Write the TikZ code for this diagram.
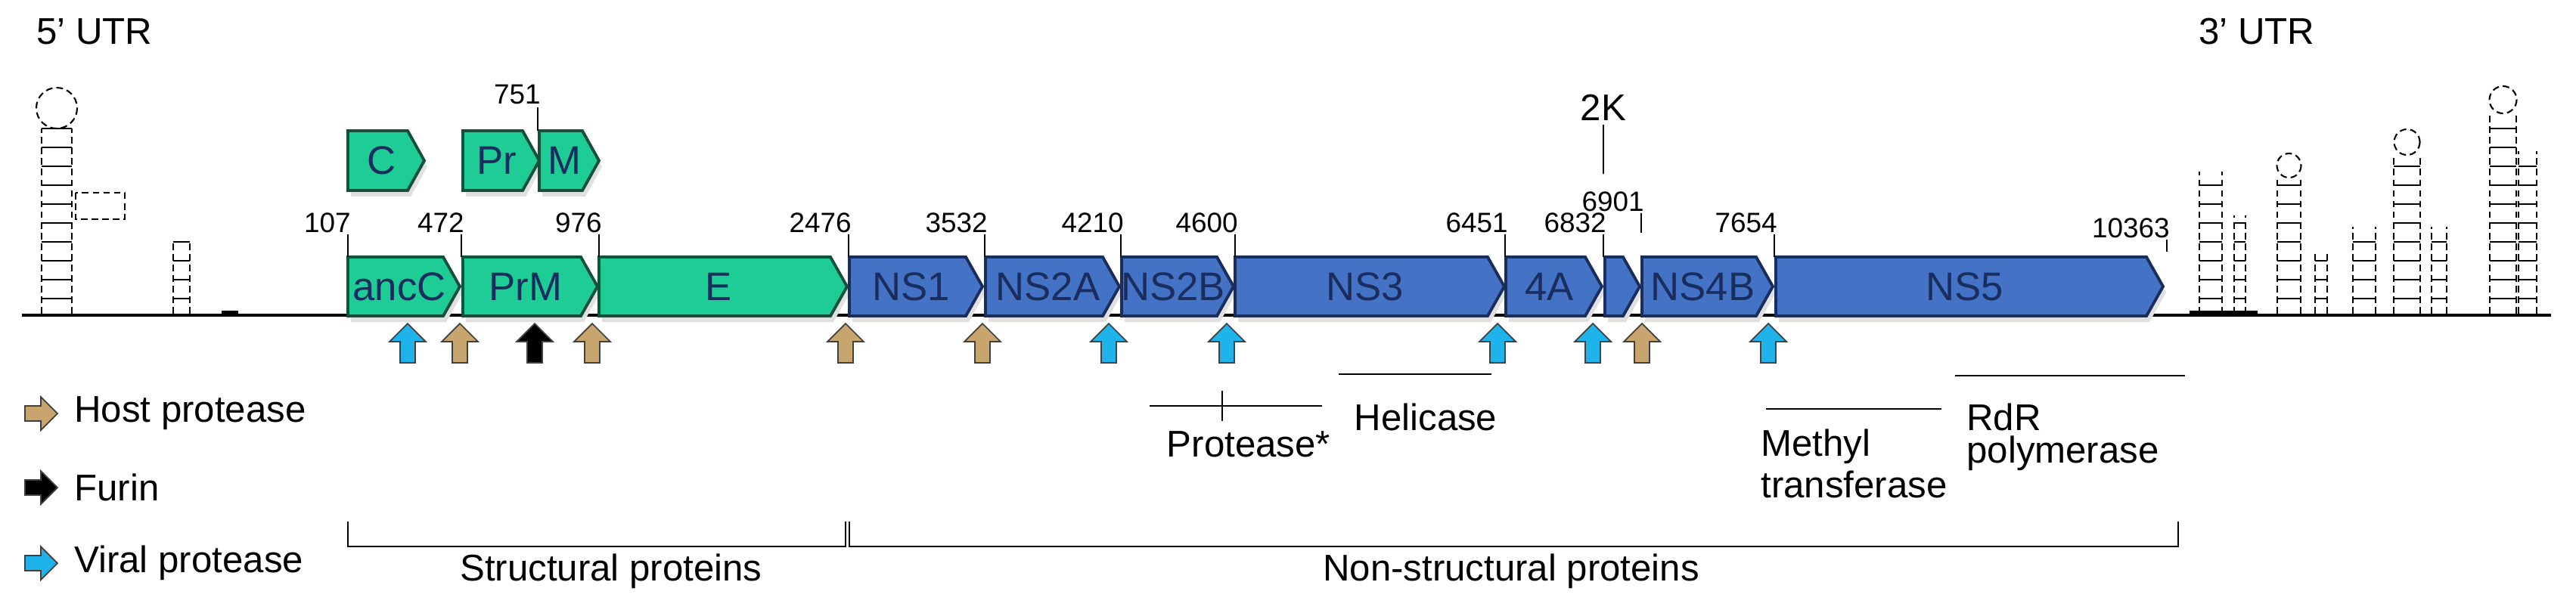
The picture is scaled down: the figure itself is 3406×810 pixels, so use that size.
\documentclass[tikz,border=0pt]{standalone}
\usepackage{fontspec}
\setmainfont{Liberation Sans}
\definecolor{grn}{RGB}{30,205,150}
\definecolor{grnd}{RGB}{20,80,60}
\definecolor{blu}{RGB}{68,114,196}
\definecolor{blud}{RGB}{25,45,95}
\definecolor{tanc}{RGB}{200,165,110}
\definecolor{cyn}{RGB}{30,180,235}
\newcommand\segbox[7]{%
 \fill[black!12] ({#2+4},{#4+8}) -- ({#3-18},{#4+8}) -- ({#3+4},{(#4+#5)/2+8}) -- ({#3-18},{#5+8}) -- ({#2+4},{#5+8}) -- cycle;
 \draw[#7] (#2,#4) -- ({#3-22},#4) -- (#3,{(#4+#5)/2}) -- ({#3-22},#5) -- (#2,#5) -- cycle;
 \node[boxlbl] (#1) at ({(#2+#3-12)/2},{(#4+#5)/2}) {#6};}
\newcommand\uarr[3]{%
 \draw[arrst,fill=#3] (#2,428) -- ({#2+24},452) -- ({#2+10},452) -- ({#2+10},480) -- ({#2-10},480) -- ({#2-10},452) -- ({#2-24},452) -- cycle;
 \coordinate (#1) at (#2,428);}
\newcommand\rarr[3]{%
 \draw[arrst,fill=#3] (76,#2) -- (54,{#2-22}) -- (54,{#2-10}) -- (33,{#2-10}) -- (33,{#2+10}) -- (54,{#2+10}) -- (54,{#2+22}) -- cycle;
 \coordinate (#1) at (76,#2);}
\newcommand\postick[5]{%
 \coordinate (#1) at (#2,#5); \draw[tickst] (#1) -- (#2,#4);
 \node[num,anchor=south east] (#1l) at ({#2+4},{#4-2}) {#3};}
\newcommand\stem[4]{%
 \draw[stemst] (#1,415) -- (#1,#3) (#1+#2,415) -- (#1+#2,#3);
 \foreach \yy in {395,370,...,#3} {\draw[stemst,solid] (#1,\yy) -- (#1+#2,\yy);}
 \ifnum#4>0 \draw[stemst] ({#1+#2/2},{#3-#4}) circle (#4);\fi}
\begin{document}
\begin{tikzpicture}[x=0.2mm,y=-0.2mm,
 boxlbl/.style={font=\fontsize{30}{32}\selectfont,text=blud,inner sep=0},
 num/.style={font=\fontsize{21}{23}\selectfont,inner sep=0},
 lbl/.style={font=\fontsize{28}{30}\selectfont,inner sep=0},
 gbox/.style={fill=grn,draw=grnd,line width=2.2pt},
 bbox/.style={fill=blu,draw=blud,line width=2.2pt},
 arrst/.style={draw=black!75,line width=1pt},
 tickst/.style={line width=1.1pt},
 stemst/.style={line width=1.2pt,dash pattern=on 5pt off 3pt},
 brk/.style={line width=1.3pt}]
\useasboundingbox (0,0) rectangle (3406,810);
% titles
\node[lbl,anchor=west] (utr5) at (48,42) {5' UTR};
\node[lbl,anchor=west] (utr3) at (2907,42) {3' UTR};
% genome line
\coordinate (g0) at (29,417); \coordinate (g1) at (3373,417);
\draw[line width=2pt] (g0) -- (g1);
\draw[line width=5pt] (293,415) -- (315,415);
\draw[line width=5pt] (2895,415) -- (2985,415);
% stem loops 5'
\stem{55}{40}{170}{27}
\draw[stemst] (100,255) rectangle (165,290);
\stem{229}{22}{320}{0}
% stem loops 3'
\stem{2908}{30}{227}{0}
\stem{2954}{15}{285}{0}
\stem{3011}{31}{235}{16}
\stem{3061}{16}{335}{0}
\stem{3111}{30}{300}{0}
\stem{3165}{35}{205}{17}
\stem{3215}{20}{300}{0}
\stem{3292}{35}{150}{18}
\stem{3330}{24}{200}{0}
% small boxes
\segbox{C}{460}{561}{173}{252}{C}{gbox}
\segbox{Pr}{612}{713}{173}{252}{Pr}{gbox}
\segbox{M}{713}{792}{173}{252}{M}{gbox}
\draw[tickst] (711,142) -- (711,173);
\node[num,anchor=south east] (n751) at (715,138) {751};
% main boxes
\segbox{ancC}{460}{608}{340}{418}{ancC}{gbox}
\segbox{PrM}{612}{790}{340}{418}{PrM}{gbox}
\segbox{E}{792}{1120}{340}{418}{E}{gbox}
\segbox{NS1}{1123}{1299}{340}{418}{NS1}{bbox}
\segbox{NS2A}{1303}{1480}{340}{418}{NS2A}{bbox}
\segbox{NS2B}{1483}{1631}{340}{418}{NS2B}{bbox}
\segbox{NS3}{1633}{1989}{340}{418}{NS3}{bbox}
\segbox{NS4A}{1991}{2118}{340}{418}{4A}{bbox}
\segbox{K2}{2122}{2168}{340}{418}{}{bbox}
\segbox{NS4B}{2171}{2344}{340}{418}{NS4B}{bbox}
\segbox{NS5}{2348}{2860}{340}{418}{NS5}{bbox}
% position ticks
\postick{p107}{460}{107}{310}{340}
\postick{p472}{610}{472}{310}{340}
\postick{p976}{792}{976}{310}{340}
\postick{p2476}{1122}{2476}{310}{340}
\postick{p3532}{1302}{3532}{310}{340}
\postick{p4210}{1482}{4210}{310}{340}
\postick{p4600}{1633}{4600}{310}{340}
\postick{p6451}{1990}{6451}{310}{340}
\postick{p6832}{2120}{6832}{310}{340}
\postick{p6901}{2170}{6901}{282}{308}
\postick{p7654}{2346}{7654}{310}{340}
\postick{p10363}{2865}{10363}{317}{333}
\node[lbl,anchor=south] (k2l) at (2120,160) {2K};
\draw[tickst] (k2l.south) ++(0,5) -- (2120,230);
% cleavage arrows
\uarr{a1}{539}{cyn}
\uarr{a2}{608}{tanc}
\uarr{a3}{707}{black}
\uarr{a4}{783}{tanc}
\uarr{a5}{1118}{tanc}
\uarr{a6}{1299}{tanc}
\uarr{a7}{1466}{cyn}
\uarr{a8}{1622}{cyn}
\uarr{a9}{1980}{cyn}
\uarr{a10}{2106}{cyn}
\uarr{a11}{2171}{tanc}
\uarr{a12}{2338}{cyn}
% legend
\rarr{l1}{547}{tanc}
\rarr{l2}{645}{black}
\rarr{l3}{745}{cyn}
\node[lbl,anchor=west] (t1) at (98,547) {Host protease};
\node[lbl,anchor=west] (t2) at (98,645) {Furin};
\node[lbl,anchor=west] (t3) at (98,745) {Viral protease};
% domains
\draw[brk] (1520,537) -- (1748,537) (1616,517) -- (1616,557);
\node[lbl] (prot) at (1651,588) {Protease*};
\draw[brk] (1770,495) -- (1972,495);
\node[lbl] (heli) at (1885,552) {Helicase};
\draw[brk] (2335,541) -- (2567,541);
\node[lbl,anchor=west] (meth) at (2328,591) {Methyl};
\node[lbl,anchor=west] (tran) at (2328,641) {transferase};
\draw[brk] (2585,497) -- (2889,497);
\node[lbl,anchor=west] (rdr) at (2600,552) {RdR};
\node[lbl,anchor=west] (poly) at (2600,600) {polymerase};
% brackets
\draw[brk] (460,690) -- (460,723) -- (1118,723) -- (1118,690);
\node[lbl] (sp) at (808,756) {Structural proteins};
\draw[brk] (1123,690) -- (1123,723) -- (2880,723) -- (2880,690);
\node[lbl] (nsp) at (1998,756) {Non-structural proteins};
\end{tikzpicture}
\end{document}
